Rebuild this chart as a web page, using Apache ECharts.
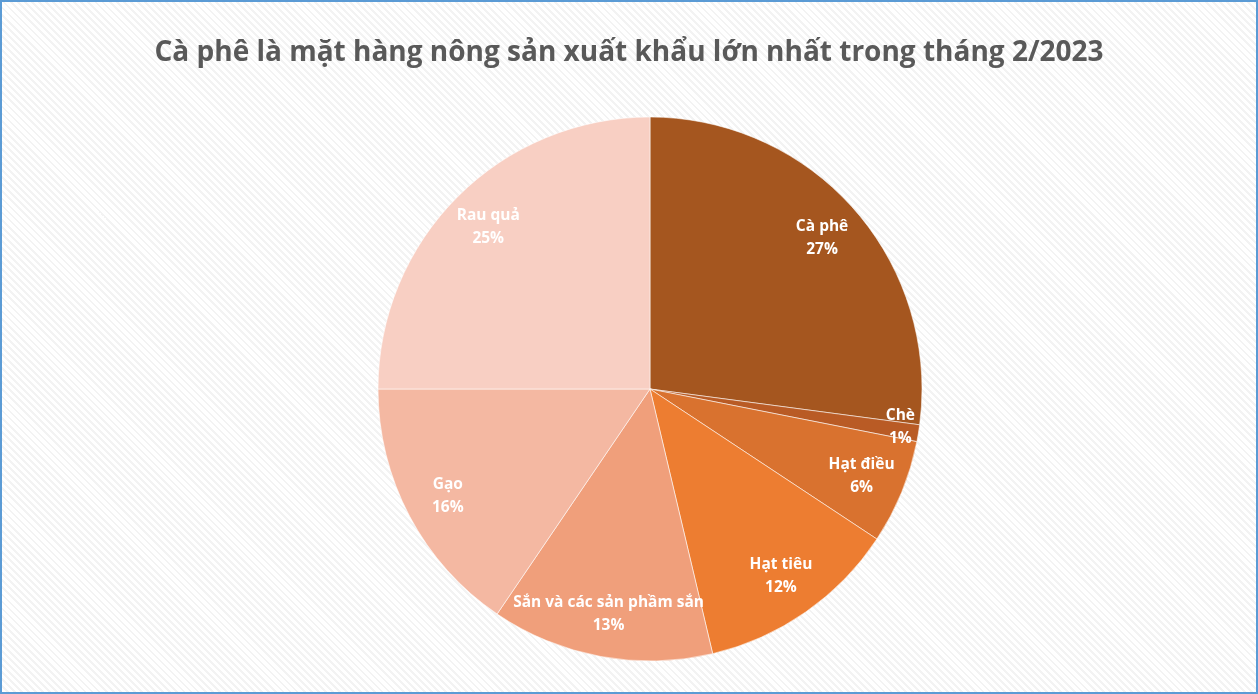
<!DOCTYPE html>
<html>
<head>
<meta charset="utf-8">
<title>Cà phê là mặt hàng nông sản xuất khẩu lớn nhất trong tháng 2/2023</title>
<script src="https://cdn.jsdelivr.net/npm/echarts@6/dist/echarts.min.js"></script>
<style>
  html, body { margin: 0; padding: 0; background: #fff; }
  #frame {
    position: absolute; left: 0; top: 0;
    width: 1254px; height: 690px;
    border: 2px solid #5b9bd5;
    background: repeating-linear-gradient(45deg, #ffffff 0px, #ffffff 3px, #f3f3f3 3px, #f3f3f3 5px);
  }
  #pieChart { width: 1254px; height: 690px; }
</style>
</head>
<body>
<div id="frame"><div id="pieChart"></div></div>
<script>
// data (share of export value, %)
const products = ["Cà phê", "Chè", "Hạt điều", "Hạt tiêu", "Sắn và các sản phầm sắn", "Gạo", "Rau quả"];
const shares = [27.1, 1.0, 6.2, 12.0, 13.2, 15.5, 25.0];
const sliceColors = ["#a5561f", "#b95b25", "#d9722f", "#ed7d31", "#f09f7b", "#f4b8a2", "#f8cfc3"];

const chartDom = document.getElementById("pieChart");
const chart = echarts.init(chartDom);

const center = [648, 387];
const R = 272;
const smallSlice = "Chè";

const labelFont = {
  color: "#ffffff",
  fontFamily: "Open Sans",
  fontWeight: "bold",
  fontSize: 15.5,
  lineHeight: 23
};

// transparent ring on top of the pie, only used to place labels near the rim
function labelRing(radius, position, keep) {
  return {
    type: "pie",
    center: center,
    radius: radius,
    startAngle: 90,
    clockwise: true,
    silent: true,
    animation: false,
    avoidLabelOverlap: false,
    minShowLabelAngle: 0,
    itemStyle: { color: "transparent", borderWidth: 0 },
    label: Object.assign({
      position: position,
      alignTo: "none",
      formatter: (p) => `{t|${p.name}}\n{t|${Math.round(p.percent)}%}`,
      rich: { t: Object.assign({ align: "center" }, labelFont) }
    }, labelFont),
    labelLine: { show: false, length: 0, length2: 0 },
    emphasis: { disabled: true },
    data: products.map((name, i) => ({
      name: name,
      value: shares[i],
      label: { show: keep(name) }
    }))
  };
}

const option = {
  backgroundColor: "transparent",
  title: {
    text: "Cà phê là mặt hàng nông sản xuất khẩu lớn nhất trong tháng 2/2023",
    left: "center",
    top: 32,
    textStyle: {
      color: "#595959",
      fontFamily: "Open Sans",
      fontWeight: "bold",
      fontSize: 28
    }
  },
  series: [
    {
      type: "pie",
      center: center,
      radius: [0, R],
      startAngle: 90,
      clockwise: true,
      animation: false,
      label: { show: false },
      labelLine: { show: false },
      itemStyle: {
        borderColor: "rgba(255,255,255,0.55)",
        borderWidth: 1
      },
      data: products.map((name, i) => ({
        name: name,
        value: shares[i],
        itemStyle: { color: sliceColors[i] }
      }))
    },
    labelRing([R * 0.66, R], "inside", (n) => n !== smallSlice),
    labelRing([0, R * 0.86], "outside", (n) => n === smallSlice)
  ]
};

chart.setOption(option);
window.addEventListener("resize", () => chart.resize());
</script>
</body>
</html>
